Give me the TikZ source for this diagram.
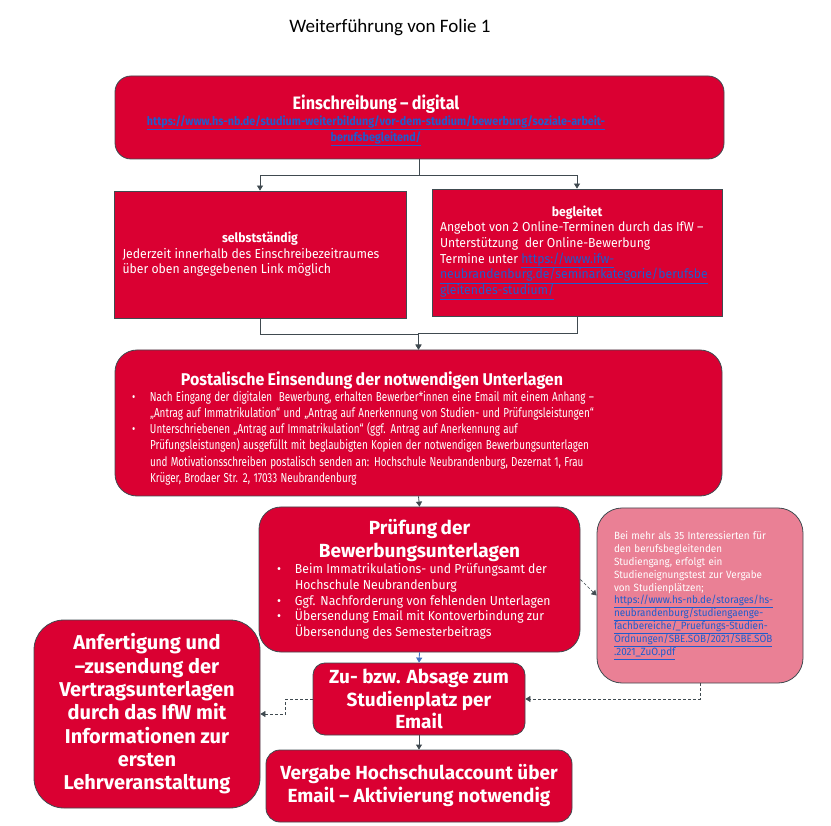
\documentclass[tikz,border=0pt]{standalone}
\usepackage{fontspec}
\setmainfont{Fira Sans}[FakeStretch=0.94]
\newfontfamily\narrowfont{Fira Sans}[FakeStretch=0.76]
\newfontfamily\topfont{Fira Sans}[FakeStretch=0.9]
\newfontfamily\titlefont{Fira Sans}
\newfontfamily\folienfont{Carlito}
\usetikzlibrary{arrows.meta}
\definecolor{hsred}{RGB}{218,0,50}
\definecolor{hsgrey}{RGB}{64,74,80}
\definecolor{hspink}{RGB}{234,128,149}
\definecolor{hslinkc}{RGB}{30,92,205}
\definecolor{hsblue}{RGB}{68,114,196}
\newcommand{\hslink}[1]{\textcolor{hslinkc}{\underline{#1}}}
\newcommand{\hsitem}{\noindent\hangindent=18pt\hangafter=1\makebox[18pt][l]{\textbullet}}
\newcommand{\nl}{\unskip\nobreak\hfil\break}

\begin{document}
\begin{tikzpicture}[x=1pt,y=-1pt,
  box/.style={draw=hsgrey,line width=0.8pt,fill=hsred,text=white,inner sep=0pt},
  rbox/.style={box,rounded corners=#1}, rbox/.default=15pt,
  conn/.style={hsgrey,line width=0.8pt,-{Triangle[length=5pt,width=6pt]}},
  dconn/.style={conn,densely dashed,line width=0.6pt}]
\useasboundingbox[fill=white] (0,0) rectangle (831,826);

\node (folie) at (390,28) {\folienfont\fontsize{19}{22}\selectfont Weiterführung von Folie 1};

\node[rbox=16pt, minimum width=609, minimum height=83, text width=609] (einschr) at (419.5,117.5)
{\parindent=0pt\leftskip=0pt plus 1fil\rightskip=87pt plus 1fil\parfillskip=0pt
\topfont
{\fontsize{18}{21}\bfseries\rule{0pt}{20pt}Einschreibung – digital\par}
\fontsize{12}{16}\bfseries
\hslink{https://www.hs-nb.de/studium-weiterbildung/vor-dem-studium/bewerbung/soziale-arbeit-}\par
\hslink{berufsbegleitend/}\par};

\node[box, minimum width=292, minimum height=127, text width=275] (selbst) at (260,254.5)
{\parindent=0pt
{\centering\fontsize{13}{15}\bfseries selbstständig\par}
\rightskip=0pt plus 1fil\fontsize{13}{15.5}\selectfont
Jederzeit innerhalb des Einschreibezeitraumes\nl
über oben angegebenen Link möglich\par};

\node[box, minimum width=290, minimum height=127, text width=274] (begl) at (577,252.5)
{\parindent=0pt
{\centering\fontsize{13}{15}\bfseries begleitet\par}
\rightskip=0pt plus 1fil\fontsize{13}{15.7}\selectfont
Angebot von 2 Online-Terminen durch das IfW –\nl
Unterstützung \ der Online-Bewerbung\nl
Termine unter \hslink{https://www.ifw-}\nl
\hslink{neubrandenburg.de/seminarkategorie/berufsbe}\nl
\hslink{gleitendes-studium/}\par};

\node[rbox=22pt, minimum width=607, minimum height=146, text width=573] (post) at (418.5,423)
{\parindent=0pt
\makebox[480pt]{\fontsize{17}{21}\bfseries\rule{0pt}{24pt}Postalische Einsendung der notwendigen Unterlagen}\par
\rightskip=0pt plus 1fil\narrowfont\fontsize{13}{16.2}\selectfont
\hsitem Nach Eingang der digitalen \ Bewerbung, erhalten Bewerber*innen eine Email mit einem Anhang –\nl
„Antrag auf Immatrikulation“ und „Antrag auf Anerkennung von Studien- und Prüfungsleistungen“\par
\hsitem Unterschriebenen „Antrag auf Immatrikulation“ (ggf. Antrag auf Anerkennung auf\nl
Prüfungsleistungen) ausgefüllt mit beglaubigten Kopien der notwendigen Bewerbungsunterlagen\nl
und Motivationsschreiben postalisch senden an: Hochschule Neubrandenburg, Dezernat 1, Frau\nl
Krüger, Brodaer Str. 2, 17033 Neubrandenburg\par};

\node[rbox=22pt, minimum width=321, minimum height=145, text width=285] (pruef) at (419.5,579.5)
{\parindent=0pt
{\centering\titlefont\fontsize{19}{23}\bfseries Prüfung der\\Bewerbungsunterlagen\par}
\rightskip=0pt plus 1fil\fontsize{13}{15.8}\selectfont
\hsitem Beim Immatrikulations- und Prüfungsamt der\nl
Hochschule Neubrandenburg\par
\hsitem Ggf. Nachforderung von fehlenden Unterlagen\par
\hsitem Übersendung Email mit Kontoverbindung zur\nl
Übersendung des Semesterbeitrags\par};

\node[rbox=25pt, fill=hspink, minimum width=206, minimum height=175, text width=172] (test) at (700,595.5)
{\parindent=0pt\rightskip=0pt plus 1fil\fontsize{10.5}{12.8}\selectfont
Bei mehr als 35 Interessierten für\nl
den berufsbegleitenden\nl
Studiengang, erfolgt ein\nl
Studieneignungstest zur Vergabe\nl
von Studienplätzen;\nl
\hslink{https://www.hs-nb.de/storages/hs-}\nl
\hslink{neubrandenburg/studiengaenge-}\nl
\hslink{fachbereiche/\_Pruefungs-Studien-}\nl
\hslink{Ordnungen/SBE.SOB/2021/SBE.SOB}\nl
\hslink{.2021\_ZuO.pdf}\par};

\node[rbox=12pt, minimum width=212, minimum height=72, align=center,
  font=\titlefont\fontsize{19}{22.5}\bfseries] (zusage) at (419,699)
{Zu- bzw. Absage zum\\Studienplatz per\\Email};

\node[rbox=14pt, minimum width=306, minimum height=72, align=center,
  font=\titlefont\fontsize{19}{23}\bfseries] (vergabe) at (419,786)
{Vergabe Hochschulaccount über\\Email – Aktivierung notwendig};

\node[rbox=30pt, minimum width=226, minimum height=188, align=center,
  font=\titlefont\fontsize{20}{23.3}\bfseries] (anf) at (147,714)
{Anfertigung und\\–zusendung der\\Vertragsunterlagen\\durch das IfW mit\\Informationen zur\\ersten\\Lehrveranstaltung};

\draw[conn] (einschr.south) -- ++(0,16) -| (selbst.north);
\draw[conn] (einschr.south) -- ++(0,16) -| (begl.north);
\draw[conn] (selbst.south) -- ++(0,16) -| (post.north);
\draw[conn] (begl.south) -- ++(0,17) -| (post.north);
\path[conn]
(post.south) edge (pruef.north)
(zusage.south) edge (vergabe.north)
;
\path[conn,hsblue]
(pruef.south) edge (zusage.north)
;
\draw[dconn] (pruef.east) -- (test.west);
\draw[dconn] (test.south) |- (zusage.east);
\draw[dconn] (zusage.west) -- ++(-27,0) |- (anf.east);
\end{tikzpicture}
\end{document}
